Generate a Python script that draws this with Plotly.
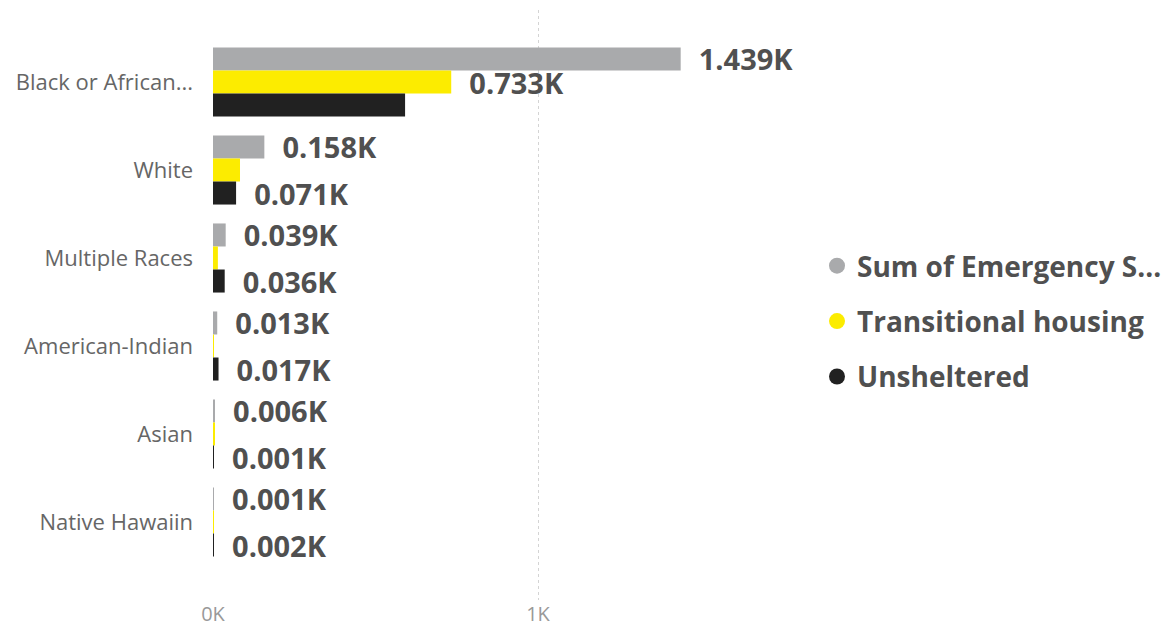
import plotly.graph_objects as go

categories = ["Black or African...", "White", "Multiple Races", "American-Indian", "Asian", "Native Hawaiin"]
series_names = ["Sum of Emergency S...", "Transitional housing", "Unsheltered"]
emergency = [1439, 158, 39, 13, 6, 1]
transitional = [733, 83, 15, 3, 4, 2]
unsheltered = [591, 71, 36, 17, 1, 2]
# which data labels are visible (Power BI hides overlapping labels)
show_emergency = [True, True, True, True, True, True]
show_transitional = [True, False, False, False, False, False]
show_unsheltered = [False, True, True, True, True, True]
colors = ["#A9AAAC", "#FCEC00", "#212121"]
tick_vals = [0, 1000]
tick_text = ["0K", "1K"]

NB = "\u00a0\u00a0"


def labels(vals, show):
    return [NB + f"{v/1000:.3f}K" if s else "" for v, s in zip(vals, show)]


fig = go.Figure()
for name, vals, show, col in [
    (series_names[0], emergency, show_emergency, colors[0]),
    (series_names[1], transitional, show_transitional, colors[1]),
    (series_names[2], unsheltered, show_unsheltered, colors[2]),
]:
    fig.add_trace(go.Bar(
        y=categories, x=vals, orientation="h", name=name,
        marker=dict(color=col, line=dict(width=0)),
        text=labels(vals, show), textposition="outside",
        textfont=dict(family="Open Sans", size=29, color="#505050", weight="bold"),
        cliponaxis=False, constraintext="none", showlegend=False,
        legendgroup=name,
    ))
    fig.add_trace(go.Scatter(
        x=[None], y=[None], mode="markers", name=name, legendgroup=name,
        marker=dict(color=col, size=16, symbol="circle"), showlegend=True,
    ))

# page body has an 8px margin, so figure coords = page coords - 8
W, H = 1168, 621
L, R, T, B = 205, 792, 2, 592
x_max = (R - L) / 325 * 1000
c0 = 74
top_idx = -(c0 - T) / 88
bot_idx = (B - c0) / 88

fig.update_layout(
    width=W, height=H,
    margin=dict(l=L, r=W - R, t=T, b=H - B, pad=0),
    paper_bgcolor="white", plot_bgcolor="white",
    barmode="group", bargap=0.215, bargroupgap=0,
    xaxis=dict(range=[0, x_max], tickvals=tick_vals, ticktext=tick_text,
               showgrid=True, gridcolor="#D4D4D4", griddash="dot", gridwidth=1,
               zeroline=False, showline=False, ticks="", automargin=False,
               tickfont=dict(family="Open Sans", size=20, color="#999999")),
    yaxis=dict(range=[bot_idx, top_idx], showgrid=False, zeroline=False,
               showline=False, ticks="", ticklabelstandoff=19, automargin=False,
               tickfont=dict(family="Open Sans", size=22, color="#666666")),
    legend=dict(x=(809 - L) / (R - L), xanchor="left", y=1 - (233 - T) / (B - T), yanchor="top",
                font=dict(family="Open Sans", size=28, color="#505050", weight="bold"),
                tracegroupgap=16, itemsizing="trace", bgcolor="rgba(0,0,0,0)",
                itemwidth=30),
    showlegend=True,
)

fig.write_html("out.html")
